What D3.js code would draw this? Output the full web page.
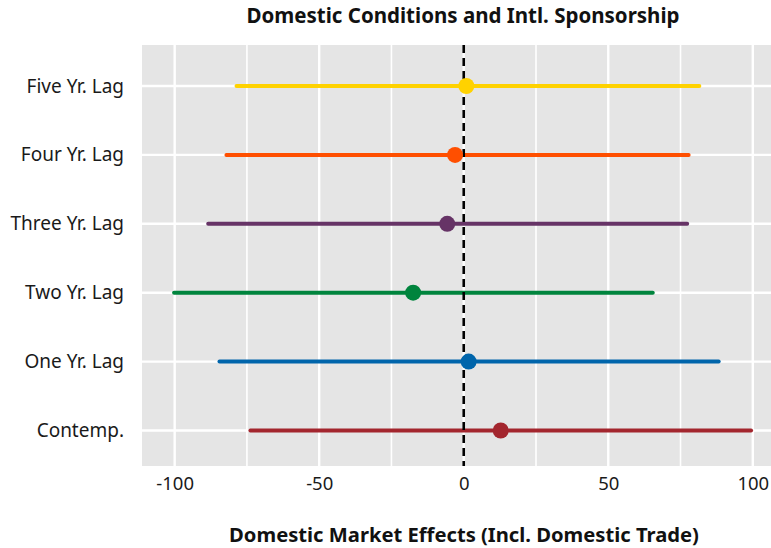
<!DOCTYPE html>
<html>
<head>
<meta charset="utf-8">
<script src="https://cdn.jsdelivr.net/npm/d3@7"></script>
<style>
  html, body { margin: 0; padding: 0; background: #ffffff; }
  svg { display: block; font-family: "Noto Sans", "Open Sans", sans-serif; }
</style>
</head>
<body>
<svg id="chart" width="771" height="548"></svg>
<script>
// Coefficient estimates with interval bounds, one row per lag
const categories = ["Contemp.", "One Yr. Lag", "Two Yr. Lag", "Three Yr. Lag", "Four Yr. Lag", "Five Yr. Lag"];
const estimates  = [12.8, 1.7, -17.5, -5.7, -3.0, 0.9];
const lowerBound = [-73.8, -84.5, -100.2, -88.4, -82.1, -78.6];
const upperBound = [99.4, 88.2, 65.4, 77.3, 77.8, 81.5];
const colors     = ["#a3262e", "#0065ab", "#00843d", "#663366", "#ff4f00", "#ffd200"];
const xTicks     = [-100, -50, 0, 50, 100];
const xMinor     = [-75, -25, 25, 75];

const rows = categories.map((c, i) => ({
  cat: c, est: estimates[i], lo: lowerBound[i], hi: upperBound[i], color: colors[i]
}));

const svg = d3.select("#chart");
const panel = { left: 142, right: 771, top: 45, bottom: 466 };

const x = d3.scaleLinear().domain([-111.3, 106.3]).range([panel.left, panel.right]);
const y = d3.scalePoint().domain(categories).range([430.5, 86]);

// panel background
svg.append("rect")
  .attr("x", panel.left).attr("y", panel.top)
  .attr("width", panel.right - panel.left).attr("height", panel.bottom - panel.top)
  .attr("fill", "#e5e5e5");

// grid lines
svg.append("g").selectAll("line").data(xMinor).join("line")
  .attr("x1", d => x(d)).attr("x2", d => x(d))
  .attr("y1", panel.top).attr("y2", panel.bottom)
  .attr("stroke", "#ffffff").attr("stroke-width", 1.6);
svg.append("g").selectAll("line").data(xTicks).join("line")
  .attr("x1", d => x(d)).attr("x2", d => x(d))
  .attr("y1", panel.top).attr("y2", panel.bottom)
  .attr("stroke", "#ffffff").attr("stroke-width", 2.4);
svg.append("g").selectAll("line").data(categories).join("line")
  .attr("x1", panel.left).attr("x2", panel.right)
  .attr("y1", d => y(d)).attr("y2", d => y(d))
  .attr("stroke", "#ffffff").attr("stroke-width", 2.4);

// interval segments
svg.append("g").selectAll("line").data(rows).join("line")
  .attr("x1", d => x(d.lo)).attr("x2", d => x(d.hi))
  .attr("y1", d => y(d.cat)).attr("y2", d => y(d.cat))
  .attr("stroke", d => d.color).attr("stroke-width", 4)
  .attr("stroke-linecap", "round");

// zero reference line
svg.append("line")
  .attr("x1", x(0)).attr("x2", x(0))
  .attr("y1", panel.top).attr("y2", panel.bottom)
  .attr("stroke", "#000000").attr("stroke-width", 2.6)
  .attr("stroke-dasharray", "8,5");

// point estimates
svg.append("g").selectAll("circle").data(rows).join("circle")
  .attr("cx", d => x(d.est)).attr("cy", d => y(d.cat))
  .attr("r", 8).attr("fill", d => d.color);

// x axis
const xAxis = svg.append("g")
  .attr("transform", `translate(0,${panel.bottom})`)
  .call(d3.axisBottom(x).tickValues(xTicks).tickSize(0).tickPadding(11).tickFormat(d => String(d)));
xAxis.select(".domain").remove();
xAxis.selectAll("text").attr("font-size", 18.5).attr("fill", "#1a1a1a")
  .attr("font-family", "'Noto Sans', sans-serif");

// y axis
const yAxis = svg.append("g")
  .attr("transform", `translate(${panel.left},0)`)
  .call(d3.axisLeft(y).tickSize(0).tickPadding(18));
yAxis.select(".domain").remove();
yAxis.selectAll("text").attr("font-size", 19).attr("fill", "#1a1a1a")
  .attr("font-family", "'Noto Sans', sans-serif");

// titles
svg.append("text")
  .attr("x", 463).attr("y", 23)
  .attr("text-anchor", "middle")
  .attr("font-size", 20.5).attr("font-weight", "bold").attr("fill", "#111")
  .text("Domestic Conditions and Intl. Sponsorship");

svg.append("text")
  .attr("x", 464).attr("y", 542)
  .attr("text-anchor", "middle")
  .attr("font-size", 20.2).attr("font-weight", "bold").attr("fill", "#111")
  .text("Domestic Market Effects (Incl. Domestic Trade)");
</script>
</body>
</html>
